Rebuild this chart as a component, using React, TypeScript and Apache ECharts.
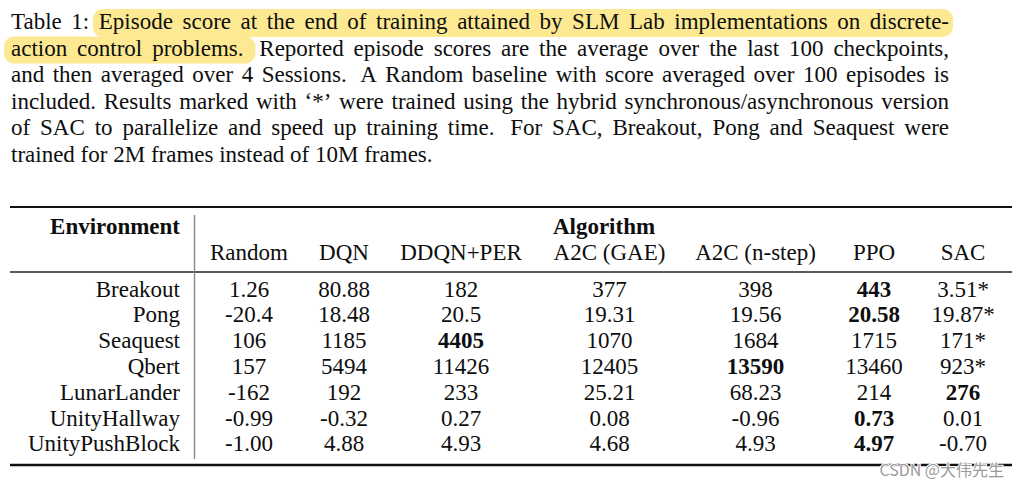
import React, { useEffect, useRef } from "react";
import * as echarts from "echarts";

const captionLines: string[] = [
  "Table 1: Episode score at the end of training attained by SLM Lab implementations on discrete-",
  "action control problems.  Reported episode scores are the average over the last 100 checkpoints,",
  "and then averaged over 4 Sessions.  A Random baseline with score averaged over 100 episodes is",
  "included. Results marked with \u2018*\u2019 were trained using the hybrid synchronous/asynchronous version",
  "of SAC to parallelize and speed up training time.  For SAC, Breakout, Pong and Seaquest were",
  "trained for 2M frames instead of 10M frames.",
];
// highlighted span: from word index on line 0 to word index on line 1
const highlightStartWord = 2; // "Episode"
const highlightEndWord = 2; // "problems."

const headerEnv = "Environment";
const headerAlgo = "Algorithm";
const environments: string[] = [
  "Breakout",
  "Pong",
  "Seaquest",
  "Qbert",
  "LunarLander",
  "UnityHallway",
  "UnityPushBlock",
];
const algorithms: string[] = ["Random", "DQN", "DDQN+PER", "A2C (GAE)", "A2C (n-step)", "PPO", "SAC"];
const randomScores: string[] = ["1.26", "-20.4", "106", "157", "-162", "-0.99", "-1.00"];
const dqnScores: string[] = ["80.88", "18.48", "1185", "5494", "192", "-0.32", "4.88"];
const ddqnPerScores: string[] = ["182", "20.5", "4405", "11426", "233", "0.27", "4.93"];
const a2cGaeScores: string[] = ["377", "19.31", "1070", "12405", "25.21", "0.08", "4.68"];
const a2cNstepScores: string[] = ["398", "19.56", "1684", "13590", "68.23", "-0.96", "4.93"];
const ppoScores: string[] = ["443", "20.58", "1715", "13460", "214", "0.73", "4.97"];
const sacScores: string[] = ["3.51*", "19.87*", "171*", "923*", "276", "0.01", "-0.70"];
const bestAlgorithm: string[] = ["PPO", "PPO", "DDQN+PER", "A2C (n-step)", "SAC", "PPO", "PPO"];
const watermark = "CSDN @\u5927\u4f1f\u5148\u751f";

const FONT = '"Liberation Serif", "Times New Roman", serif';
const FS = 23;
const TEXT_COLOR = "#0e0e0e";

export default function App() {
  const ref = useRef<HTMLDivElement>(null);
  useEffect(() => {
    if (!ref.current) return;
    const chart = echarts.init(ref.current, undefined, { renderer: "svg" });
    const canvas = document.createElement("canvas");
    const ctx = canvas.getContext("2d")!;
    const measure = (t: string, bold = false) => {
      ctx.font = `${bold ? "bold " : ""}${FS}px ${FONT}`;
      return ctx.measureText(t).width;
    };

    const elements: any[] = [];
    const texts: any[] = [];
    const mkText = (x: number, y: number, text: string, align: string, bold = false, extra: any = {}) => ({
      type: "text",
      x,
      y,
      style: {
        text,
        x: 0,
        y: 0,
        fill: TEXT_COLOR,
        font: `${bold ? "bold " : ""}${FS}px ${FONT}`,
        align,
        verticalAlign: "middle",
        ...extra,
      },
    });

    // Caption (justified)
    const left = 11;
    const right = 949;
    const spaceW = measure(" ");
    let hl1Start = 0, hl1End = 0, hl2End = 0;
    captionLines.forEach((line, li) => {
      const y = 21.5 + li * 26.5;
      const parts = line.split(/( +)/);
      const words = parts.filter((_, i) => i % 2 === 0);
      const gaps = parts.filter((_, i) => i % 2 === 1).map((g) => (g.length > 1 ? 1.6 : 1));
      const wordW = words.map((w) => measure(w));
      const natural = wordW.reduce((a, b) => a + b, 0) + gaps.reduce((a, b) => a + b, 0) * spaceW;
      const justify = li < captionLines.length - 1;
      const totalWeight = gaps.reduce((a, b) => a + b, 0);
      const extraPerWeight = justify && totalWeight > 0 ? (right - left - natural) / totalWeight : 0;
      let x = left;
      words.forEach((w, wi) => {
        if (li === 0 && wi === highlightStartWord) hl1Start = x;
        texts.push(mkText(x, y, w, "left"));
        x += wordW[wi];
        if (li === 1 && wi === highlightEndWord) hl2End = x;
        if (wi < gaps.length) x += gaps[wi] * (spaceW + extraPerWeight);
      });
      if (li === 0) hl1End = x;
    });
    elements.push({
      type: "rect",
      shape: { x: hl1Start - 6, y: 9, width: hl1End - hl1Start + 10, height: 28, r: 10 },
      style: { fill: "#FDE992" },
    });
    elements.push({
      type: "rect",
      shape: { x: 4, y: 36.5, width: hl2End - 4 + 12, height: 27, r: 10 },
      style: { fill: "#FDE992" },
    });

    // Table rules
    const tl = 10, tr = 1012;
    elements.push({ type: "line", shape: { x1: tl, y1: 207, x2: tr, y2: 207 }, style: { stroke: "#111", lineWidth: 2.2 } });
    elements.push({ type: "line", shape: { x1: tl, y1: 272, x2: tr, y2: 272 }, style: { stroke: "#222", lineWidth: 1.6 } });
    elements.push({ type: "line", shape: { x1: tl, y1: 465, x2: tr, y2: 465 }, style: { stroke: "#111", lineWidth: 2.6 } });
    elements.push({ type: "line", shape: { x1: 194.5, y1: 215, x2: 194.5, y2: 459 }, style: { stroke: "#888", lineWidth: 1.4 } });

    const colX = [249, 344, 461, 609.5, 755.5, 874, 963];
    const envX = 180;
    texts.push(mkText(envX, 226.5, headerEnv, "right", true));
    texts.push(mkText(604, 226.5, headerAlgo, "center", true));
    algorithms.forEach((a, i) => texts.push(mkText(colX[i], 252.5, a, "center")));

    const columns = [randomScores, dqnScores, ddqnPerScores, a2cGaeScores, a2cNstepScores, ppoScores, sacScores];
    environments.forEach((env, r) => {
      const y = 289 + r * 25.8;
      texts.push(mkText(envX, y, env, "right"));
      columns.forEach((col, c) => {
        const bold = bestAlgorithm[r] === algorithms[c];
        texts.push(mkText(colX[c], y, col[r], "center", bold));
      });
    });

    texts.push({
      type: "text",
      x: 1004,
      y: 469,
      style: {
        text: watermark,
        fill: "#9a9a9a",
        font: `16px "Noto Sans CJK SC", "Noto Sans", sans-serif`,
        align: "right",
        verticalAlign: "middle",
        stroke: "#ffffff",
        lineWidth: 2,
      },
    });

    chart.setOption({
      animation: false,
      backgroundColor: "#ffffff",
      graphic: { elements: [...elements, ...texts] },
    });
    return () => chart.dispose();
  }, []);
  return <div ref={ref} style={{ position: "fixed", left: 0, top: 0, width: 1024, height: 487 }} />;
}
